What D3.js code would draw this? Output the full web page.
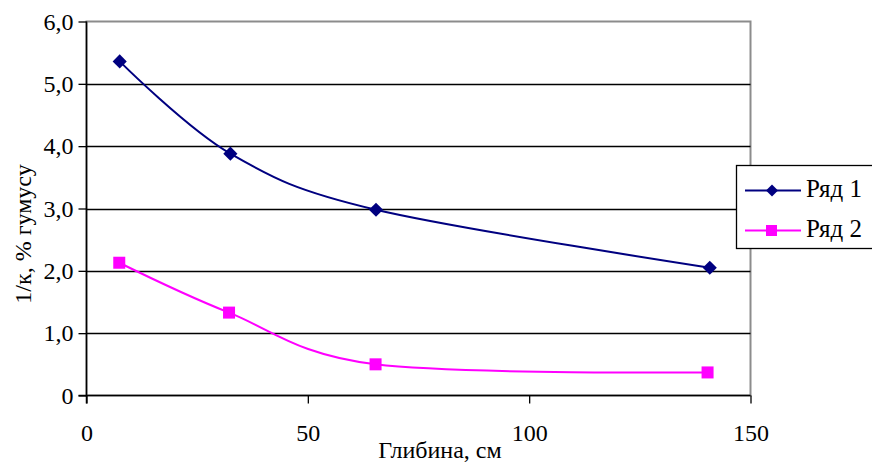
<!DOCTYPE html>
<html>
<head>
<meta charset="utf-8">
<script src="https://cdn.jsdelivr.net/npm/d3@7"></script>
<style>
  html, body { margin: 0; padding: 0; background: #fff; }
  svg { display: block; }
</style>
</head>
<body>
<svg id="chart" width="872" height="463"></svg>
<script>
// Depth (cm) and humus reciprocal values for the two series
const depth1 = [7.5, 32.5, 65.4, 140.8];
const series1 = [5.36, 3.88, 2.98, 2.05];
const depth2 = [7.4, 32.2, 65.3, 140.3];
const series2 = [2.13, 1.33, 0.50, 0.37];
const seriesNames = ["Ряд 1", "Ряд 2"];
const xTicks = [0, 50, 100, 150];
const yTicks = [0, 1, 2, 3, 4, 5, 6];
const xTitle = "Глибина, см";
const yTitle = "1/к, % гумусу";

const FONT = "'Liberation Serif'";

const svg = d3.select("#chart");
const plotLeft = 86.5, plotRight = 750.5, plotTop = 21.5, plotBottom = 395.5;

const x = d3.scaleLinear().domain([0, 150]).range([plotLeft, plotRight]);
const y = d3.scaleLinear().domain([0, 6]).range([plotBottom, plotTop]);

function styleText(sel, size) {
  return sel.style("font-family", FONT).style("font-size", (size || 24) + "px").style("fill", "#000");
}

// Plot frame (grey)
svg.append("rect")
  .attr("x", plotLeft).attr("y", plotTop)
  .attr("width", plotRight - plotLeft).attr("height", plotBottom - plotTop)
  .attr("fill", "none").attr("stroke", "#8c8c8c").attr("stroke-width", 2);

// Horizontal gridlines
svg.append("g").selectAll("line")
  .data(yTicks.filter(d => d > 0 && d < 6))
  .join("line")
  .attr("x1", plotLeft).attr("x2", plotRight)
  .attr("y1", d => Math.round(y(d)) + 0.5).attr("y2", d => Math.round(y(d)) + 0.5)
  .attr("stroke", "#000").attr("stroke-width", 1.3);

// Y axis
const yAxis = d3.axisLeft(y).tickValues(yTicks).tickSize(8).tickPadding(5)
  .tickFormat(d => d === 0 ? "0" : d.toFixed(1).replace(".", ","));
const gy = svg.append("g").attr("transform", `translate(${plotLeft},0)`).call(yAxis)
  .attr("font-family", null).attr("font-size", null);
gy.select(".domain").attr("stroke", "#000").attr("stroke-width", 1.5)
  .attr("d", `M0,${plotTop}V${plotBottom + 8}`);
gy.selectAll(".tick line").attr("stroke", "#000").attr("stroke-width", 1.3);
styleText(gy.selectAll(".tick text"));

// X axis
const xAxis = d3.axisBottom(x).tickValues(xTicks).tickSize(8).tickPadding(20)
  .tickFormat(d3.format("d"));
const gx = svg.append("g").attr("transform", `translate(0,${plotBottom})`).call(xAxis)
  .attr("font-family", null).attr("font-size", null);
gx.select(".domain").attr("stroke", "#000").attr("stroke-width", 1.5)
  .attr("d", `M${plotLeft - 8},0H${plotRight}`);
gx.selectAll(".tick line").attr("stroke", "#000").attr("stroke-width", 1.3);
styleText(gx.selectAll(".tick text"));

// Axis titles
styleText(svg.append("text")
  .attr("x", 440).attr("y", 458)
  .attr("text-anchor", "middle")
  .text(xTitle));
styleText(svg.append("text")
  .attr("transform", `translate(31,234) rotate(-90)`)
  .attr("text-anchor", "middle")
  .text(yTitle));

// Series lines (smoothed)
const line = d3.line().x(d => x(d[0])).y(d => y(d[1])).curve(d3.curveCardinal.tension(0));
const pts1 = depth1.map((d, i) => [d, series1[i]]);
const pts2 = depth2.map((d, i) => [d, series2[i]]);

svg.append("path").datum(pts1).attr("d", line)
  .attr("fill", "none").attr("stroke", "#000080").attr("stroke-width", 2);
svg.append("path").datum(pts2).attr("d", line)
  .attr("fill", "none").attr("stroke", "#ff00ff").attr("stroke-width", 2);

const diamond = d3.symbol().type(d3.symbolSquare).size(100);
svg.append("g").selectAll("path").data(pts1).join("path")
  .attr("d", diamond)
  .attr("transform", d => `translate(${x(d[0])},${y(d[1])}) rotate(45)`)
  .attr("fill", "#000080");
svg.append("g").selectAll("rect").data(pts2).join("rect")
  .attr("x", d => x(d[0]) - 6).attr("y", d => y(d[1]) - 6)
  .attr("width", 12).attr("height", 12)
  .attr("fill", "#ff00ff");

// Legend
const lg = svg.append("g");
lg.append("rect")
  .attr("x", 736.5).attr("y", 165.5).attr("width", 140).attr("height", 83)
  .attr("fill", "#fff").attr("stroke", "#000").attr("stroke-width", 1.3);
const legendRows = [
  { name: seriesNames[0], color: "#000080", shape: "diamond", cy: 190.5 },
  { name: seriesNames[1], color: "#ff00ff", shape: "square", cy: 230.5 }
];
legendRows.forEach(r => {
  lg.append("line").attr("x1", 745).attr("x2", 801)
    .attr("y1", r.cy).attr("y2", r.cy)
    .attr("stroke", r.color).attr("stroke-width", 2);
  if (r.shape === "diamond") {
    lg.append("path").attr("d", d3.symbol().type(d3.symbolSquare).size(72)())
      .attr("transform", `translate(772,${r.cy}) rotate(45)`).attr("fill", r.color);
  } else {
    lg.append("rect").attr("x", 766).attr("y", r.cy - 5.5)
      .attr("width", 11).attr("height", 11).attr("fill", r.color);
  }
  styleText(lg.append("text").attr("x", 806).attr("y", r.cy + 6).text(r.name), 25);
});
</script>
</body>
</html>
